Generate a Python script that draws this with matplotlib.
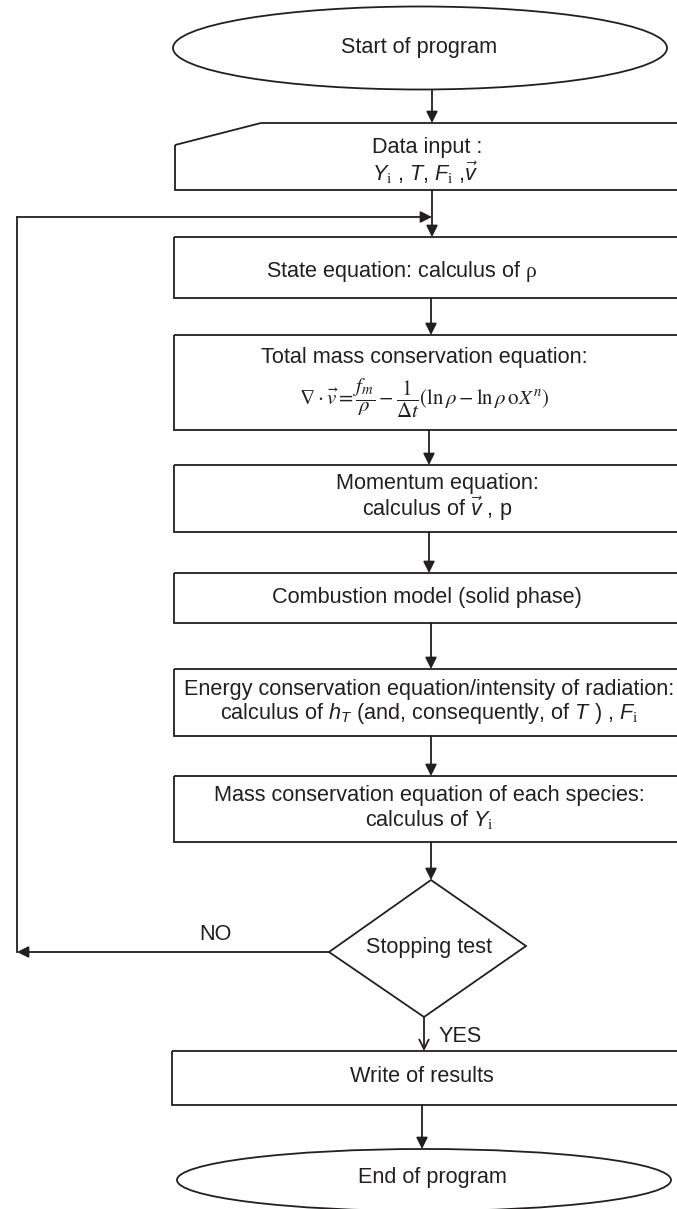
import matplotlib.pyplot as plt
from matplotlib.patches import Ellipse, Polygon, Rectangle

# === 1. Flowchart content ===
start_label = 'Start of program'
end_label = 'End of program'
input_lines = ['Data input :',
               r'$Y_\mathrm{i}$ , $T$, $F_\mathrm{i}$ ,$\vec{v}$']
step_lines = [
    [r'State equation: calculus of $\mathrm{\rho}$'],
    ['Total mass conservation equation:',
     r'$\nabla\cdot\vec{v} = \dfrac{f_m}{\rho} - \dfrac{1}{\Delta t}\left(\ln\rho - \ln\rho\,\mathrm{o}X^{n}\right)$'],
    ['Momentum equation:', r'calculus of $\vec{v}$ , p'],
    ['Combustion model (solid phase)'],
    ['Energy conservation equation/intensity of radiation:',
     r'calculus of $h_T$ (and, consequently, of $T$ ) , $F_\mathrm{i}$'],
    ['Mass conservation equation of each species:',
     r'calculus of $Y_\mathrm{i}$'],
]
test_label = 'Stopping test'
no_label = 'NO'
yes_label = 'YES'
write_label = 'Write of results'

# === 2. Layout (pixel coordinates, y down) ===
step_top = [237, 335, 465, 573, 669, 776]
step_bottom = [298, 430, 532, 623, 736, 842]
step_text_x = [402, 424, 437, 427, 429, 429]
step_text_y = [[271], [358, 398], [484, 509], [597], [689, 713], [796, 820]]
arrow_x = [431, 429, 429, 431, 431, 431]

ink = '#231f20'
lw = 1.3

plt.rcParams['font.family'] = ['Liberation Sans Narrow', 'Liberation Sans', 'DejaVu Sans']
plt.rcParams['mathtext.fontset'] = 'custom'
plt.rcParams['mathtext.rm'] = 'Liberation Serif'
plt.rcParams['mathtext.it'] = 'Liberation Sans:italic'
plt.rcParams['mathtext.bf'] = 'Liberation Sans:bold'

fig = plt.figure(figsize=(6.77, 12.09), dpi=100)
ax = fig.add_axes([0, 0, 1, 1])
ax.set_xlim(0, 677)
ax.set_ylim(1209, 0)
ax.axis('off')

fs = 15.6


def arrow(x0, y0, x1, y1, style='-|>'):
    ax.annotate('', xy=(x1, y1), xytext=(x0, y0),
                arrowprops=dict(arrowstyle=style, color=ink, lw=lw,
                                mutation_scale=17, shrinkA=0, shrinkB=0))


def label(x, y, s, **kw):
    ax.text(x, y, s, ha=kw.pop('ha', 'center'), va='center', fontsize=kw.pop('fontsize', fs),
            color=ink, **kw)


# Start
ax.add_patch(Ellipse((420, 48), 494, 83, fill=False, ec=ink, lw=lw))
label(419, 48, start_label)
arrow(432, 90, 432, 123)

# Data input (manual input shape)
ax.add_patch(Polygon([(175, 145), (261, 123), (700, 123), (700, 190), (175, 190)],
                     closed=True, fill=False, ec=ink, lw=lw))
label(427, 147, input_lines[0])
label(425, 173, input_lines[1])
arrow(432, 190, 432, 237)

# loop back arrow
arrow(17, 217, 432, 217)

# process steps
for i, lines in enumerate(step_lines):
    top, bot = step_top[i], step_bottom[i]
    ax.add_patch(Rectangle((174, top), 520, bot - top, fill=False, ec=ink, lw=lw))
    for j, s in enumerate(lines):
        if i == 1 and j == 1:
            ax.text(step_text_x[i], step_text_y[i][j], s, ha='center', va='center',
                    fontsize=15, color=ink, math_fontfamily='stix')
        else:
            label(step_text_x[i], step_text_y[i][j], s)
    nxt = step_top[i + 1] if i + 1 < len(step_top) else 880
    arrow(arrow_x[i], bot, arrow_x[i], nxt)

# Decision
ax.add_patch(Polygon([(431, 880), (526, 946), (424, 1017), (329, 952)],
                     closed=True, fill=False, ec=ink, lw=lw))
label(429, 947, test_label)

# NO branch back to the top
ax.plot([17, 17], [952, 217], color=ink, lw=lw)
arrow(329, 952, 17, 952)
label(215, 935, no_label)

# YES branch
arrow(424, 1017, 424, 1051, style='->')
label(438, 1036, yes_label, ha='left')

# Write of results
ax.add_patch(Rectangle((172, 1051), 520, 54, fill=False, ec=ink, lw=lw))
label(422, 1076, write_label)
arrow(422, 1105, 422, 1149)

# End
ax.add_patch(Ellipse((424, 1180), 494, 62, fill=False, ec=ink, lw=lw))
label(432, 1178, end_label)

fig.savefig('out.png', dpi=100, facecolor='white')
